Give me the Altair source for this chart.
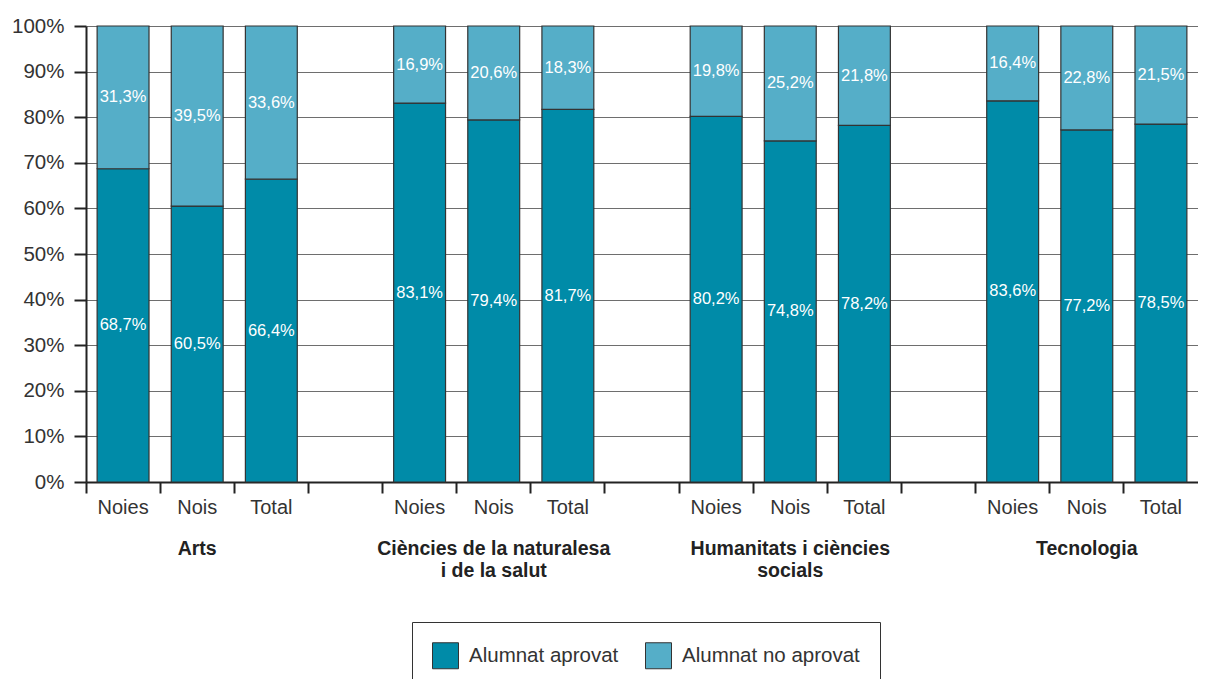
import altair as alt
import pandas as pd

groups = ["Arts", "Ciències de la naturalesa\ni de la salut", "Humanitats i ciències\nsocials", "Tecnologia"]
subgroups = ["Noies", "Nois", "Total"]
series = ["Alumnat aprovat", "Alumnat no aprovat"]
aprovat = [68.7, 60.5, 66.4, 83.1, 79.4, 81.7, 80.2, 74.8, 78.2, 83.6, 77.2, 78.5]
no_aprovat = [31.3, 39.5, 33.6, 16.9, 20.6, 18.3, 19.8, 25.2, 21.8, 16.4, 22.8, 21.5]
colors = ["#008ba8", "#55aec8"]
y_ticks = [0, 10, 20, 30, 40, 50, 60, 70, 80, 90, 100]

# slot keys (with empty slots between groups)
slots = []
for gi, g in enumerate(groups):
    for s in subgroups:
        slots.append(f"{gi}|{s}")
    if gi < len(groups) - 1:
        slots.append(f"gap{gi}")

rows = []
k = 0
for gi, g in enumerate(groups):
    for s in subgroups:
        for si, (name, vals) in enumerate(zip(series, [aprovat, no_aprovat])):
            v = vals[k]
            rows.append({"slot": f"{gi}|{s}", "serie": name, "ord": si, "value": v,
                         "label": f"{v:.1f}".replace(".", ",") + "%"})
        k += 1
df = pd.DataFrame(rows)
gdf = pd.DataFrame({"slot": [f"{gi}|Nois" for gi in range(len(groups))], "glabel": groups})

W = 1112
H = 456

xscale = alt.Scale(domain=slots, paddingInner=0, paddingOuter=0)
xaxis = alt.Axis(title=None, values=slots,
                 labelExpr="indexof(datum.value,'|')>=0 ? split(datum.value,'|')[1] : ''",
                 labelAngle=0, labelFontSize=20, labelColor="#333", labelPadding=4,
                 labelOverlap=False, bandPosition=0, tickSize=11, tickWidth=2, tickColor="#222",
                 domainColor="#222", domainWidth=2, grid=False)
X = alt.X("slot:N", scale=xscale, axis=xaxis)

yscale = alt.Scale(domain=[0, 100])
yaxis = alt.Axis(title=None, values=y_ticks, labelExpr="datum.value + '%'", labelFontSize=20.5,
                 labelColor="#333", labelPadding=10, tickSize=12, tickWidth=2, tickColor="#222",
                 domainColor="#222", domainWidth=2, grid=True, gridColor="#6e6e6e", gridWidth=1)

base = alt.Chart(df).transform_stack(
    stack="value", groupby=["slot"], as_=["y0", "y1"], sort=[alt.SortField("ord", order="ascending")]
).transform_calculate(mid="(datum.y0 + datum.y1) / 2")

bars = base.mark_bar(width={"band": 0.7}, stroke="#333", strokeWidth=1.2).encode(
    x=X,
    y=alt.Y("y0:Q", scale=yscale, axis=yaxis),
    y2="y1:Q",
    color=alt.Color("serie:N", scale=alt.Scale(domain=series, range=colors),
                    legend=alt.Legend(title=None, orient="none", legendX=326, legendY=596,
                                      direction="horizontal", strokeColor="#333", padding=20,
                                      symbolType="square", symbolSize=676, symbolStrokeColor="#333",
                                      symbolStrokeWidth=1, symbolOpacity=1, labelFontSize=20.5,
                                      labelColor="#333", labelOffset=10, columnPadding=24,
                                      labelLimit=300)),
)

texts = base.mark_text(color="white", fontSize=16.5, baseline="middle", align="center").encode(
    x=X,
    y=alt.Y("mid:Q", scale=yscale),
    text="label:N",
)

glabels = alt.Chart(gdf).mark_text(lineBreak="\n", baseline="top", align="center", fontWeight="bold",
                                   fontSize=19.5, lineHeight=22, color="#222").encode(
    x=X,
    y=alt.value(514),
    text="glabel:N",
)

chart = alt.layer(bars, texts, glabels).properties(
    width=W, height=H, padding={"left": 3, "top": 8, "right": 0, "bottom": 0}
).configure(font="Liberation Sans").configure_view(stroke=None)

chart.save("out.html", embed_options={"renderer": "svg", "actions": False})
